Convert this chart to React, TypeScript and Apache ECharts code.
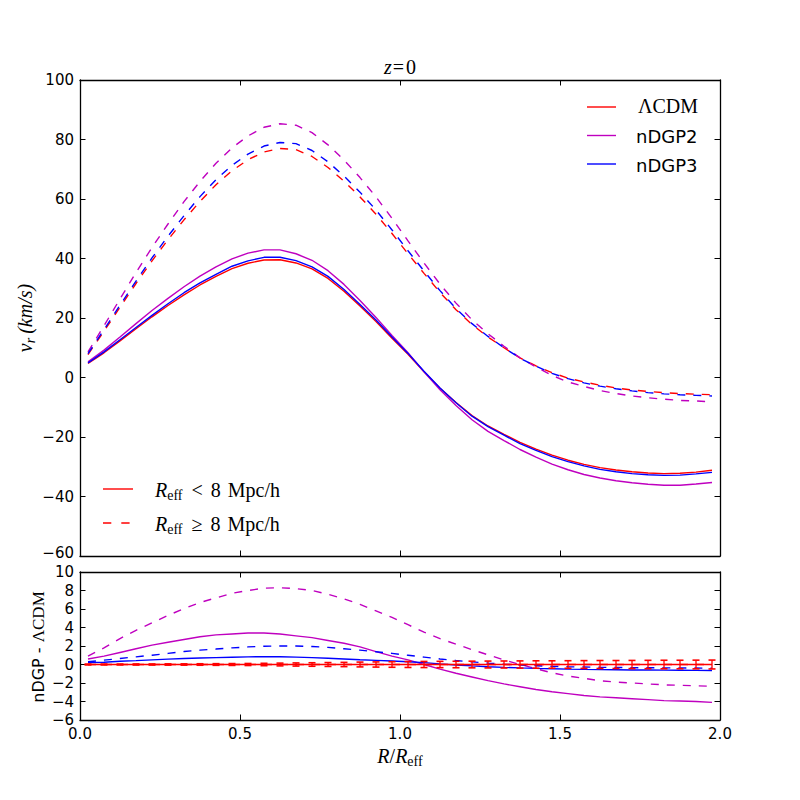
import { useEffect, useRef } from "react";
import * as echarts from "echarts";

// Bin centres R/R_eff
const radius = [
  0.025, 0.075, 0.125, 0.175, 0.225, 0.275, 0.325, 0.375, 0.425, 0.475,
  0.525, 0.575, 0.625, 0.675, 0.725, 0.775, 0.825, 0.875, 0.925, 0.975,
  1.025, 1.075, 1.125, 1.175, 1.225, 1.275, 1.325, 1.375, 1.425, 1.475,
  1.525, 1.575, 1.625, 1.675, 1.725, 1.775, 1.825, 1.875, 1.925, 1.975,
];

// Radial velocity profiles v_r (km/s), small voids (R_eff < 8 Mpc/h)
const lcdmSmall = [
  4.7, 8.3, 12.3, 16.4, 20.4, 24.2, 27.8, 31.1, 34.0, 36.6,
  38.4, 39.5, 39.6, 38.5, 36.5, 33.3, 29.0, 24.0, 18.8, 13.2,
  7.8, 1.9, -3.6, -8.4, -12.8, -16.3, -19.1, -21.8, -24.1, -26.1,
  -27.8, -29.2, -30.3, -31.1, -31.7, -32.1, -32.3, -32.2, -31.8, -31.2,
];
const ndgp2Small = [
  5.3, 9.2, 13.6, 18.1, 22.5, 26.6, 30.5, 34.1, 37.2, 39.9,
  41.8, 42.9, 42.9, 41.6, 39.4, 35.9, 31.3, 25.9, 20.2, 14.1,
  8.3, 1.9, -4.1, -9.4, -14.2, -18.1, -21.2, -24.2, -26.8, -29.1,
  -31.0, -32.6, -33.8, -34.7, -35.4, -35.9, -36.2, -36.2, -35.8, -35.3,
];
const ndgp3Small = [
  4.9, 8.6, 12.7, 16.8, 20.9, 24.8, 28.5, 31.8, 34.7, 37.4,
  39.2, 40.4, 40.4, 39.3, 37.2, 34.0, 29.6, 24.5, 19.3, 13.6,
  8.1, 2.1, -3.5, -8.5, -13.0, -16.5, -19.4, -22.2, -24.5, -26.6,
  -28.3, -29.7, -30.9, -31.7, -32.3, -32.7, -32.9, -32.8, -32.4, -31.9,
];

// Large voids (R_eff >= 8 Mpc/h)
const lcdmLarge = [
  7.7, 15.6, 23.6, 31.6, 39.2, 46.3, 53.0, 59.2, 64.8, 69.5,
  73.2, 75.8, 77.0, 76.6, 74.3, 70.6, 66.0, 60.7, 54.9, 48.4,
  41.6, 35.0, 28.6, 22.8, 17.8, 13.6, 10.0, 6.6, 3.9, 1.6,
  -0.2, -1.5, -2.6, -3.5, -4.2, -4.7, -5.1, -5.4, -5.6, -5.8,
];
const ndgp2Large = [
  8.6, 17.4, 26.4, 35.3, 43.7, 51.6, 59.1, 65.9, 72.0, 77.2,
  81.2, 84.1, 85.3, 84.8, 82.3, 78.2, 73.1, 67.2, 60.7, 53.5,
  45.9, 38.5, 31.4, 25.0, 19.4, 14.7, 10.5, 6.6, 3.5, 0.7,
  -1.5, -3.0, -4.4, -5.4, -6.2, -6.8, -7.3, -7.7, -7.9, -8.2,
];
const ndgp3Large = [
  8.0, 16.1, 24.3, 32.4, 40.2, 47.5, 54.4, 60.8, 66.5, 71.3,
  75.1, 77.8, 79.0, 78.6, 76.3, 72.5, 67.7, 62.3, 56.3, 49.6,
  42.6, 35.8, 29.2, 23.2, 18.1, 13.8, 10.0, 6.5, 3.8, 1.4,
  -0.4, -1.8, -2.9, -3.8, -4.5, -5.1, -5.5, -5.8, -6.0, -6.2,
];

// Differences nDGP - ΛCDM
const diffNdgp2Small = [
  0.6, 0.9, 1.3, 1.7, 2.1, 2.4, 2.7, 3.0, 3.2, 3.3,
  3.4, 3.4, 3.3, 3.1, 2.9, 2.6, 2.3, 1.9, 1.4, 0.9,
  0.5, 0.0, -0.5, -0.95, -1.35, -1.75, -2.1, -2.4, -2.7, -2.95,
  -3.15, -3.35, -3.5, -3.6, -3.7, -3.8, -3.9, -3.95, -4.0, -4.1,
];
const diffNdgp3Small = [
  0.2, 0.25, 0.35, 0.42, 0.5, 0.58, 0.65, 0.7, 0.74, 0.78,
  0.82, 0.85, 0.84, 0.8, 0.74, 0.67, 0.6, 0.52, 0.45, 0.38,
  0.3, 0.2, 0.07, -0.05, -0.15, -0.24, -0.31, -0.37, -0.42, -0.46,
  -0.5, -0.53, -0.55, -0.57, -0.59, -0.6, -0.61, -0.62, -0.64, -0.65,
];
const diffNdgp2Large = [
  0.9, 1.8, 2.8, 3.7, 4.5, 5.3, 6.05, 6.7, 7.2, 7.7,
  8.0, 8.25, 8.3, 8.2, 8.0, 7.6, 7.1, 6.5, 5.8, 5.1,
  4.3, 3.5, 2.8, 2.2, 1.6, 1.05, 0.5, 0.0, -0.45, -0.9,
  -1.25, -1.5, -1.75, -1.9, -2.0, -2.1, -2.2, -2.25, -2.3, -2.35,
];
const diffNdgp3Large = [
  0.3, 0.47, 0.65, 0.83, 1.0, 1.2, 1.4, 1.55, 1.67, 1.8,
  1.9, 1.97, 2.0, 2.0, 1.95, 1.85, 1.7, 1.55, 1.38, 1.2,
  1.0, 0.8, 0.6, 0.43, 0.28, 0.15, 0.03, -0.06, -0.13, -0.2,
  -0.24, -0.27, -0.3, -0.32, -0.34, -0.35, -0.36, -0.37, -0.38, -0.4,
];
const lcdmReference = [
  0, 0, 0, 0, 0, 0, 0, 0, 0, 0,
  0, 0, 0, 0, 0, 0, 0, 0, 0, 0,
  0, 0, 0, 0, 0, 0, 0, 0, 0, 0,
  0, 0, 0, 0, 0, 0, 0, 0, 0, 0,
];
const lcdmError = [
  0.05, 0.05, 0.05, 0.06, 0.06, 0.07, 0.07, 0.08, 0.09, 0.1,
  0.11, 0.13, 0.15, 0.17, 0.19, 0.21, 0.23, 0.26, 0.28, 0.3,
  0.32, 0.33, 0.34, 0.35, 0.36, 0.37, 0.38, 0.39, 0.4, 0.4,
  0.41, 0.42, 0.43, 0.43, 0.44, 0.45, 0.46, 0.46, 0.47, 0.48,
];

const RED = "#ff0000";
const MAGENTA = "#bf00bf";
const BLUE = "#0000ff";
const DASH = [8, 8];
const SANS = "DejaVu Sans";
const SERIF = "Liberation Serif";

const pairs = (ys: number[]) => radius.map((x, i) => [x, ys[i]]);
const minus = (v: number) => String(v).replace("-", "\u2212");

let ctx2d: CanvasRenderingContext2D | null = null;
function textWidth(text: string, font: string) {
  if (!ctx2d) ctx2d = document.createElement("canvas").getContext("2d");
  ctx2d!.font = font;
  return ctx2d!.measureText(text).width;
}

type Part = { t: string; size: number; family: string; italic?: boolean; dy?: number; gap?: number };

// Lays out a run of text pieces (for math-like labels with subscripts)
function mathLabel(parts: Part[], x: number, y: number, rotation = 0, align: "left" | "center" = "center") {
  const widths = parts.map((p) => textWidth(p.t, `${p.italic ? "italic " : ""}${p.size}px "${p.family}"`));
  let total = 0;
  parts.forEach((p, i) => (total += (p.gap ?? 0) + widths[i]));
  let cursor = align === "left" ? 0 : -total / 2;
  const children = parts.map((p, i) => {
    cursor += p.gap ?? 0;
    const el = {
      type: "text",
      x: cursor,
      y: p.dy ?? 0,
      style: {
        text: p.t,
        fontSize: p.size,
        fontFamily: p.family,
        fontStyle: p.italic ? "italic" : "normal",
        fill: "#000",
        align: "left",
        verticalAlign: "middle",
      },
    };
    cursor += widths[i];
    return el;
  });
  return { type: "group", x, y, rotation, children, silent: true };
}

const axisLine = { show: true, onZero: false, lineStyle: { color: "#000", width: 1.3 } };
const axisTick = { show: true, inside: true, length: 5.5, lineStyle: { color: "#000", width: 1 } };
const tickFont = { color: "#000", fontSize: 15, lineHeight: 15, fontFamily: SANS };
// the upper panel's lowest label sits right above the lower panel's top label; lift it slightly
const tickRich = {
  up: { ...tickFont, padding: [0, 0, 6, 0] },
};

function xAxis(grid: number, position: "top" | "bottom", labels: boolean) {
  return {
    type: "value",
    gridIndex: grid,
    position,
    min: 0,
    max: 2,
    interval: 0.5,
    axisLine,
    axisTick,
    splitLine: { show: false },
    axisLabel: labels
      ? { show: true, ...tickFont, margin: 6, formatter: (v: number) => v.toFixed(1), showMinLabel: true, showMaxLabel: true }
      : { show: false },
  };
}

function yAxis(grid: number, position: "left" | "right", labels: boolean, min: number, max: number, interval: number) {
  const formatter = (v: number) => (grid === 0 && v === min ? `{up|${minus(v)}}` : minus(v));
  return {
    type: "value",
    gridIndex: grid,
    position,
    min,
    max,
    interval,
    axisLine,
    axisTick,
    splitLine: { show: false },
    axisLabel: labels
      ? { show: true, ...tickFont, margin: 6, formatter, rich: tickRich, showMinLabel: true, showMaxLabel: true }
      : { show: false },
  };
}

function line(data: number[], color: string, dashed: boolean, xi: number, yi: number, z: number) {
  return {
    type: "line",
    xAxisIndex: xi,
    yAxisIndex: yi,
    data: pairs(data),
    symbol: "none",
    showSymbol: false,
    silent: true,
    z,
    lineStyle: { color, width: 1.4, type: dashed ? DASH : "solid" },
    itemStyle: { color },
    emphasis: { disabled: true },
  };
}

function legendLine(x1: number, x2: number, y: number, color: string, dashed: boolean) {
  return {
    type: "line",
    shape: { x1, y1: y, x2, y2: y },
    style: { stroke: color, lineWidth: 1.4, lineDash: dashed ? [8.3, 10] : null },
    silent: true,
  };
}

export default function App() {
  const ref = useRef<HTMLDivElement>(null);

  useEffect(() => {
    if (!ref.current) return;
    const chart = echarts.init(ref.current, null, { renderer: "svg" });

    const graphics: any[] = [
      // title z=0
      mathLabel(
        [
          { t: "z", size: 20, family: SERIF, italic: true },
          { t: "=", size: 20, family: SERIF, gap: 1 },
          { t: "0", size: 20, family: SERIF, gap: 2 },
        ],
        400,
        67
      ),
      // y label of the upper panel
      mathLabel(
        [
          { t: "v", size: 20, family: SERIF, italic: true },
          { t: "r", size: 14, family: SERIF, italic: true, dy: 5 },
          { t: "(km/s)", size: 20, family: SERIF, italic: true, gap: 4 },
        ],
        25,
        318,
        Math.PI / 2
      ),
      // y label of the lower panel
      mathLabel(
        [
          { t: "nDGP - ", size: 16, family: SANS },
          { t: "\u039BCDM", size: 17, family: SERIF },
        ],
        38,
        647,
        Math.PI / 2
      ),
      // x label
      mathLabel(
        [
          { t: "R", size: 20, family: SERIF, italic: true },
          { t: "/", size: 20, family: SERIF },
          { t: "R", size: 20, family: SERIF, italic: true },
          { t: "eff", size: 14, family: SERIF, dy: 5 },
        ],
        400,
        756
      ),
      // model legend (top right)
      legendLine(587, 616, 107, RED, false),
      legendLine(587, 616, 135.5, MAGENTA, false),
      legendLine(587, 616, 164, BLUE, false),
      mathLabel([{ t: "\u039BCDM", size: 20, family: SERIF }], 638, 106, 0, "left"),
      mathLabel([{ t: "nDGP2", size: 18, family: SANS }], 636, 136, 0, "left"),
      mathLabel([{ t: "nDGP3", size: 18, family: SANS }], 636, 165, 0, "left"),
      // void size legend (bottom left)
      legendLine(103, 133, 489, RED, false),
      legendLine(103, 133, 523, RED, true),
      mathLabel(
        [
          { t: "R", size: 20, family: SERIF, italic: true },
          { t: "eff", size: 14, family: SERIF, dy: 5 },
          { t: "<", size: 20, family: SERIF, gap: 9 },
          { t: "8", size: 20, family: SERIF, gap: 8 },
          { t: "Mpc/h", size: 20, family: SERIF, gap: 7 },
        ],
        155,
        490,
        0,
        "left"
      ),
      mathLabel(
        [
          { t: "R", size: 20, family: SERIF, italic: true },
          { t: "eff", size: 14, family: SERIF, dy: 5 },
          { t: "\u2265", size: 20, family: SERIF, gap: 9 },
          { t: "8", size: 20, family: SERIF, gap: 8 },
          { t: "Mpc/h", size: 20, family: SERIF, gap: 7 },
        ],
        155,
        524,
        0,
        "left"
      ),
    ];

    const errorBars = {
      type: "custom",
      xAxisIndex: 2,
      yAxisIndex: 2,
      silent: true,
      z: 10,
      data: radius.map((x, i) => [x, lcdmReference[i], lcdmError[i]]),
      encode: { x: 0, y: 1 },
      renderItem: (_params: any, api: any) => {
        const x = api.value(0);
        const y = api.value(1);
        const e = api.value(2);
        const top = api.coord([x, y + e]);
        const bot = api.coord([x, y - e]);
        const cap = 3.5;
        const st = { stroke: RED, lineWidth: 1.3 };
        return {
          type: "group",
          children: [
            { type: "line", shape: { x1: top[0], y1: top[1], x2: bot[0], y2: bot[1] }, style: st },
            { type: "line", shape: { x1: top[0] - cap, y1: top[1], x2: top[0] + cap, y2: top[1] }, style: { ...st, lineWidth: 1.6 } },
            { type: "line", shape: { x1: bot[0] - cap, y1: bot[1], x2: bot[0] + cap, y2: bot[1] }, style: { ...st, lineWidth: 1.6 } },
          ],
        };
      },
    };

    chart.setOption({
      animation: false,
      backgroundColor: "#ffffff",
      grid: [
        { left: 80, top: 80, width: 640, height: 476 },
        { left: 80, top: 572, width: 640, height: 148 },
      ],
      xAxis: [xAxis(0, "bottom", false), xAxis(0, "top", false), xAxis(1, "bottom", true), xAxis(1, "top", false)],
      yAxis: [
        yAxis(0, "left", true, -60, 100, 20),
        yAxis(0, "right", false, -60, 100, 20),
        yAxis(1, "left", true, -6, 10, 2),
        yAxis(1, "right", false, -6, 10, 2),
      ],
      series: [
        line(lcdmSmall, RED, false, 0, 0, 2),
        line(ndgp2Small, MAGENTA, false, 0, 0, 3),
        line(ndgp3Small, BLUE, false, 0, 0, 4),
        line(lcdmLarge, RED, true, 0, 0, 2),
        line(ndgp2Large, MAGENTA, true, 0, 0, 3),
        line(ndgp3Large, BLUE, true, 0, 0, 4),
        line(diffNdgp2Small, MAGENTA, false, 2, 2, 3),
        line(diffNdgp3Small, BLUE, false, 2, 2, 4),
        line(diffNdgp2Large, MAGENTA, true, 2, 2, 3),
        line(diffNdgp3Large, BLUE, true, 2, 2, 4),
        line(lcdmReference, RED, false, 2, 2, 5),
        line(lcdmReference, RED, true, 2, 2, 5),
        errorBars,
      ],
      graphic: graphics,
    });

    return () => chart.dispose();
  }, []);

  return (
    <div
      ref={ref}
      style={{ position: "fixed", left: 0, top: 0, width: 800, height: 800, background: "#fff" }}
    />
  );
}
